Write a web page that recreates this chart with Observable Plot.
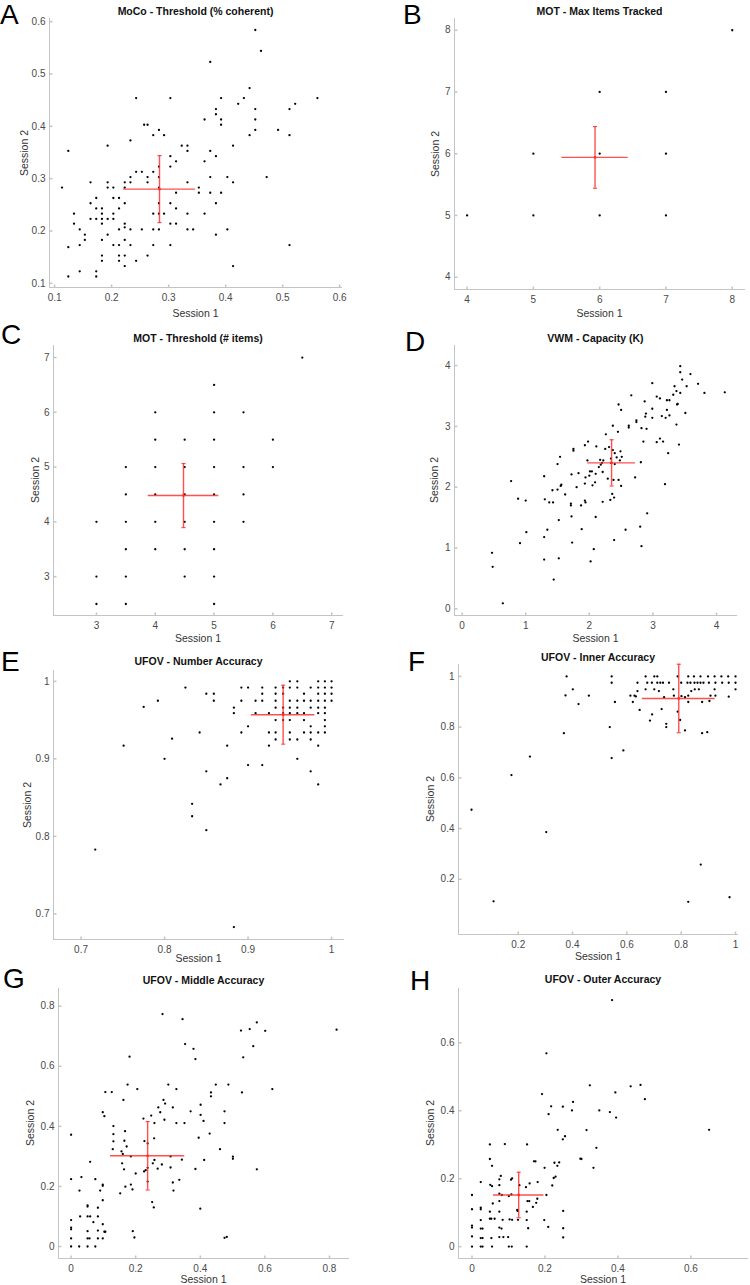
<!DOCTYPE html>
<html><head><meta charset="utf-8">
<script src="https://cdn.jsdelivr.net/npm/d3@7"></script>
<script src="https://cdn.jsdelivr.net/npm/@observablehq/plot@0.6"></script>
<style>
body{margin:0;background:#fff;}
#fig{position:relative;width:750px;height:1285px;overflow:hidden;font-family:"Liberation Sans",Arial,sans-serif;background:#fff;}
.ov{position:absolute;white-space:nowrap;line-height:1;}
.title{font-weight:bold;font-size:10.5px;color:#111;transform:translate(-50%,-50%);}
.xl{font-size:10.5px;color:#333;transform:translate(-50%,-50%);}
.yl{font-size:10.5px;color:#333;transform:translate(-50%,-50%) rotate(-90deg);}
.ov.let{font-family:"Liberation Sans",Arial,sans-serif;font-size:28px;line-height:1;color:#000;}
#fig svg{position:absolute;overflow:visible;}
</style></head>
<body><div id="fig"></div>
<script>
// ---------- DATA ----------
const titles = ["MoCo - Threshold (% coherent)","MOT - Max Items Tracked","MOT - Threshold (# items)","VWM - Capacity (K)","UFOV - Number Accuracy","UFOV - Inner Accuracy","UFOV - Middle Accuracy","UFOV - Outer Accuracy"];
const letters = ["A","B","C","D","E","F","G","H"];
const xLabel = "Session 1", yLabel = "Session 2";

const mocoPts = [[0.113,0.283],[0.124,0.353],[0.124,0.169],[0.124,0.113],[0.134,0.233],[0.134,0.214],[0.144,0.203],[0.144,0.173],[0.144,0.123],[0.153,0.193],[0.153,0.183],[0.163,0.293],[0.163,0.253],[0.163,0.223],[0.173,0.263],[0.173,0.243],[0.173,0.223],[0.173,0.123],[0.173,0.113],[0.183,0.243],[0.183,0.233],[0.183,0.223],[0.183,0.214],[0.183,0.183],[0.183,0.153],[0.183,0.143],[0.193,0.363],[0.193,0.293],[0.193,0.283],[0.193,0.223],[0.193,0.193],[0.203,0.283],[0.203,0.263],[0.203,0.233],[0.203,0.223],[0.203,0.173],[0.213,0.263],[0.213,0.243],[0.213,0.203],[0.213,0.173],[0.213,0.153],[0.213,0.143],[0.223,0.293],[0.223,0.283],[0.223,0.253],[0.223,0.214],[0.223,0.207],[0.223,0.183],[0.223,0.153],[0.223,0.133],[0.233,0.373],[0.233,0.303],[0.233,0.293],[0.233,0.203],[0.233,0.173],[0.243,0.454],[0.243,0.313],[0.243,0.143],[0.253,0.313],[0.253,0.203],[0.257,0.403],[0.263,0.403],[0.263,0.303],[0.263,0.293],[0.263,0.153],[0.273,0.383],[0.273,0.313],[0.273,0.233],[0.273,0.203],[0.273,0.173],[0.283,0.393],[0.283,0.323],[0.283,0.303],[0.283,0.283],[0.283,0.253],[0.283,0.233],[0.283,0.203],[0.292,0.383],[0.292,0.233],[0.303,0.454],[0.303,0.343],[0.303,0.323],[0.303,0.253],[0.303,0.214],[0.303,0.173],[0.313,0.333],[0.313,0.273],[0.313,0.243],[0.313,0.214],[0.323,0.363],[0.333,0.363],[0.333,0.353],[0.333,0.293],[0.333,0.233],[0.333,0.203],[0.343,0.203],[0.353,0.283],[0.353,0.273],[0.363,0.413],[0.363,0.333],[0.363,0.233],[0.373,0.523],[0.373,0.353],[0.373,0.303],[0.373,0.273],[0.383,0.433],[0.383,0.423],[0.383,0.343],[0.383,0.253],[0.383,0.193],[0.392,0.454],[0.392,0.413],[0.392,0.403],[0.392,0.273],[0.403,0.303],[0.403,0.203],[0.413,0.363],[0.413,0.293],[0.413,0.133],[0.422,0.443],[0.432,0.454],[0.442,0.473],[0.442,0.383],[0.452,0.584],[0.452,0.433],[0.452,0.413],[0.452,0.393],[0.462,0.544],[0.472,0.303],[0.492,0.393],[0.512,0.433],[0.512,0.383],[0.512,0.173],[0.522,0.443],[0.561,0.454]];
const motMaxPts = [[4,5],[5,6],[5,5],[6,7],[6,6],[6,5],[7,7],[7,6],[7,5],[8,8]];
const motThrPts = [[3,4],[3,3],[3,2.5],[3.5,5],[3.5,4.5],[3.5,4],[3.5,3.5],[3.5,3],[3.5,2.5],[4,6],[4,5.5],[4,5],[4,4.5],[4,4],[4,3.5],[4.5,5.5],[4.5,5],[4.5,4.5],[4.5,4],[4.5,3.5],[4.5,3],[5,6.5],[5,6],[5,5.5],[5,5],[5,4.5],[5,4],[5,3.5],[5,3],[5,2.5],[5.5,6],[5.5,5],[5.5,4.5],[5.5,4],[6,5.5],[6,5],[6.5,7]];
const vwmPts = [[0.47,0.92],[0.48,0.69],[0.64,0.09],[0.77,2.10],[0.88,1.81],[0.91,1.08],[1.00,1.78],[1.01,1.26],[1.29,2.18],[1.30,1.80],[1.29,1.18],[1.29,0.81],[1.34,1.30],[1.37,1.75],[1.43,1.75],[1.42,1.95],[1.44,0.48],[1.50,2.38],[1.50,1.96],[1.52,0.83],[1.52,1.46],[1.54,2.50],[1.55,2.02],[1.56,2.04],[1.62,1.88],[1.71,1.73],[1.71,1.70],[1.72,2.21],[1.72,1.52],[1.73,1.09],[1.75,2.63],[1.75,2.60],[1.80,2.00],[1.83,2.23],[1.87,1.70],[1.88,1.31],[1.93,2.69],[1.93,2.06],[1.93,1.78],[1.94,1.75],[1.94,2.16],[1.97,2.44],[1.98,2.75],[2.00,2.19],[2.01,2.26],[2.02,0.78],[2.04,2.26],[2.05,2.03],[2.07,0.98],[2.09,2.08],[2.10,2.22],[2.10,1.51],[2.11,2.67],[2.15,2.33],[2.17,2.45],[2.18,2.37],[2.20,2.40],[2.21,2.25],[2.21,1.76],[2.22,2.44],[2.25,2.63],[2.26,2.87],[2.29,2.14],[2.31,2.66],[2.33,1.79],[2.34,2.47],[2.34,2.40],[2.36,1.89],[2.37,2.61],[2.37,3.01],[2.38,2.12],[2.39,1.13],[2.39,1.83],[2.40,2.56],[2.40,2.38],[2.43,2.49],[2.45,2.91],[2.46,3.36],[2.46,2.12],[2.48,2.44],[2.49,2.59],[2.50,3.27],[2.50,2.02],[2.51,2.50],[2.57,1.30],[2.62,3.01],[2.62,2.98],[2.66,3.51],[2.72,2.16],[2.74,3.10],[2.74,3.07],[2.80,1.35],[2.81,2.41],[2.82,1.03],[2.82,2.97],[2.85,2.75],[2.87,3.41],[2.88,3.16],[2.89,3.21],[2.90,2.96],[2.91,1.57],[2.99,3.71],[2.99,3.14],[2.99,3.29],[3.06,2.74],[3.06,3.49],[3.11,3.46],[3.11,2.80],[3.14,3.17],[3.16,2.75],[3.19,2.05],[3.20,3.14],[3.22,3.27],[3.22,3.43],[3.24,2.56],[3.26,3.18],[3.26,3.43],[3.32,3.52],[3.34,3.66],[3.37,3.03],[3.37,3.58],[3.38,3.36],[3.39,3.37],[3.41,2.70],[3.43,3.99],[3.43,3.89],[3.43,3.55],[3.46,3.77],[3.51,3.22],[3.53,3.66],[3.59,3.86],[3.71,3.70],[3.81,3.55],[4.13,3.56]];
const numAccPts = [[0.717,0.783],[0.751,0.917],[0.775,0.967],[0.792,0.975],[0.800,0.900],[0.809,0.926],[0.825,0.992],[0.833,0.842],[0.833,0.826],[0.842,0.934],[0.850,0.984],[0.850,0.884],[0.850,0.808],[0.859,0.984],[0.859,0.975],[0.867,0.867],[0.875,0.917],[0.875,0.875],[0.883,0.966],[0.883,0.959],[0.883,0.683],[0.892,0.992],[0.892,0.975],[0.892,0.934],[0.900,0.992],[0.900,0.942],[0.900,0.892],[0.909,0.975],[0.909,0.959],[0.917,0.992],[0.917,0.984],[0.917,0.975],[0.917,0.892],[0.925,0.959],[0.925,0.934],[0.925,0.917],[0.933,0.992],[0.933,0.984],[0.933,0.975],[0.933,0.966],[0.933,0.950],[0.933,0.934],[0.933,0.925],[0.942,0.992],[0.942,0.984],[0.942,0.966],[0.942,0.959],[0.942,0.950],[0.950,1.0],[0.950,0.992],[0.950,0.975],[0.950,0.966],[0.950,0.959],[0.950,0.950],[0.950,0.934],[0.950,0.925],[0.959,1.0],[0.959,0.992],[0.959,0.975],[0.959,0.966],[0.959,0.959],[0.959,0.925],[0.959,0.900],[0.967,0.984],[0.967,0.975],[0.967,0.959],[0.967,0.950],[0.967,0.934],[0.975,0.992],[0.975,0.975],[0.975,0.966],[0.975,0.942],[0.975,0.934],[0.975,0.925],[0.975,0.884],[0.984,1.0],[0.984,0.992],[0.984,0.984],[0.984,0.975],[0.984,0.966],[0.984,0.959],[0.984,0.934],[0.984,0.917],[0.984,0.867],[0.992,1.0],[0.992,0.992],[0.992,0.984],[0.992,0.975],[0.992,0.966],[0.992,0.959],[0.992,0.950],[0.992,0.942],[0.992,0.934],[1.0,1.0],[1.0,0.992],[1.0,0.984],[1.0,0.975]];
const innerPts = [[0.028,0.474],[0.109,0.113],[0.175,0.611],[0.243,0.684],[0.303,0.386],[0.368,0.776],[0.374,0.925],[0.378,1.0],[0.401,0.949],[0.422,0.891],[0.460,0.924],[0.537,0.800],[0.544,1.0],[0.544,0.975],[0.544,0.678],[0.556,0.899],[0.587,0.708],[0.613,0.924],[0.622,0.899],[0.628,0.924],[0.633,0.921],[0.639,0.942],[0.639,0.975],[0.647,0.868],[0.669,1.0],[0.669,0.949],[0.675,0.975],[0.685,0.826],[0.692,0.975],[0.693,0.850],[0.701,1.0],[0.701,0.949],[0.712,1.0],[0.712,0.975],[0.718,0.942],[0.723,0.975],[0.728,0.871],[0.733,0.975],[0.737,0.918],[0.745,0.800],[0.745,0.813],[0.755,0.975],[0.771,0.949],[0.773,0.924],[0.787,0.861],[0.787,1.0],[0.796,0.828],[0.800,0.975],[0.801,0.922],[0.814,0.918],[0.814,0.787],[0.823,0.975],[0.826,0.899],[0.826,0.924],[0.826,1.0],[0.834,0.975],[0.837,0.942],[0.847,1.0],[0.849,0.975],[0.850,0.949],[0.860,0.975],[0.865,0.949],[0.871,1.0],[0.871,0.975],[0.872,0.258],[0.877,0.899],[0.877,0.776],[0.882,0.975],[0.896,0.780],[0.899,1.0],[0.902,0.975],[0.904,0.903],[0.908,0.924],[0.923,1.0],[0.926,0.975],[0.923,0.949],[0.926,0.924],[0.948,1.0],[0.951,0.975],[0.973,1.0],[0.975,0.920],[0.975,0.975],[0.978,0.129],[1.0,1.0],[1.0,0.975],[1.0,0.949],[0.826,0.111]];
const middlePts = [[0,0],[0,0.027],[0,0.057],[0,0.063],[0,0.088],[0,0.224],[0,0.372],[0.025,0],[0.026,0.186],[0.028,0.1],[0.032,0.231],[0.051,0],[0.051,0.027],[0.051,0.051],[0.051,0.1],[0.051,0.133],[0.051,0.137],[0.057,0.027],[0.059,0.1],[0.059,0.282],[0.069,0.081],[0.075,0],[0.075,0.224],[0.083,0.027],[0.083,0.053],[0.083,0.1],[0.083,0.129],[0.09,0.186],[0.098,0.027],[0.098,0.074],[0.098,0.154],[0.098,0.202],[0.098,0.206],[0.098,0.447],[0.103,0.434],[0.106,0.049],[0.103,0.049],[0.106,0.514],[0.126,0.514],[0.129,0.324],[0.131,0.35],[0.131,0.374],[0.131,0.401],[0.152,0.177],[0.156,0.317],[0.158,0.277],[0.16,0.308],[0.162,0.488],[0.164,0.257],[0.165,0.352],[0.167,0.384],[0.168,0.199],[0.172,0.333],[0.175,0.539],[0.181,0.632],[0.185,0.3],[0.185,0.206],[0.19,0.19],[0.191,0.051],[0.196,0.03],[0.2,0.243],[0.205,0.524],[0.224,0.426],[0.227,0.351],[0.226,0.25],[0.231,0.254],[0.237,0.216],[0.237,0.343],[0.237,0.262],[0.248,0.436],[0.251,0.148],[0.253,0.277],[0.256,0.13],[0.257,0.36],[0.258,0.411],[0.258,0.288],[0.268,0.259],[0.27,0.463],[0.276,0.447],[0.281,0.273],[0.283,0.774],[0.286,0.488],[0.289,0.422],[0.291,0.476],[0.301,0.539],[0.308,0.263],[0.308,0.3],[0.315,0.463],[0.315,0.213],[0.317,0.186],[0.326,0.411],[0.326,0.524],[0.335,0.222],[0.343,0.289],[0.345,0.757],[0.351,0.411],[0.353,0.674],[0.37,0.45],[0.379,0.658],[0.385,0.624],[0.385,0.258],[0.395,0.362],[0.4,0.126],[0.401,0.472],[0.401,0.438],[0.41,0.418],[0.412,0.288],[0.429,0.376],[0.433,0.513],[0.433,0.5],[0.448,0.539],[0.461,0.324],[0.475,0.45],[0.475,0.411],[0.475,0.029],[0.482,0.032],[0.487,0.539],[0.501,0.299],[0.501,0.292],[0.526,0.719],[0.529,0.513],[0.533,0.63],[0.553,0.724],[0.564,0.667],[0.575,0.746],[0.575,0.257],[0.601,0.718],[0.623,0.524],[0.822,0.722]];
const outerPts = [[0,0],[0,0.030],[0,0.056],[0,0.062],[0,0.110],[0,0.152],[0.024,0],[0.024,0.025],[0.024,0.053],[0.024,0.078],[0.024,0.110],[0.024,0.115],[0.024,0.19],[0.029,0],[0.029,0.025],[0.029,0.053],[0.049,0.082],[0.049,0.103],[0.049,0.258],[0.049,0.301],[0.05,0.182],[0.053,0.025],[0.053,0.082],[0.055,0.238],[0.055,0.178],[0.055,0],[0.057,0.127],[0.062,0.082],[0.075,0.028],[0.075,0.056],[0.075,0.103],[0.075,0.134],[0.075,0.156],[0.075,0.181],[0.075,0.198],[0.079,0.208],[0.081,0.053],[0.082,0.152],[0.084,0.079],[0.086,0.028],[0.09,0.302],[0.099,0.028],[0.101,0.149],[0.101,0],[0.103,0.08],[0.107,0.197],[0.108,0.154],[0.109,0],[0.11,0.201],[0.11,0.079],[0.124,0.108],[0.125,0.105],[0.126,0.079],[0.13,0.181],[0.15,0],[0.15,0.103],[0.15,0.078],[0.148,0.175],[0.151,0.301],[0.152,0.134],[0.154,0.054],[0.157,0.134],[0.158,0.186],[0.167,0.117],[0.17,0.251],[0.174,0.251],[0.176,0.129],[0.179,0.141],[0.18,0.19],[0.192,0.449],[0.198,0.078],[0.199,0.232],[0.204,0.152],[0.204,0.569],[0.209,0.058],[0.21,0.39],[0.217,0.413],[0.22,0.18],[0.224,0.202],[0.226,0.247],[0.229,0.206],[0.234,0.238],[0.235,0.344],[0.239,0.248],[0.249,0.412],[0.249,0.316],[0.25,0.105],[0.25,0.054],[0.25,0.027],[0.255,0.325],[0.274,0.401],[0.277,0.426],[0.297,0.259],[0.3,0.258],[0.314,0.343],[0.323,0.475],[0.333,0.232],[0.341,0.291],[0.349,0.401],[0.378,0.396],[0.384,0.726],[0.393,0.454],[0.395,0.38],[0.435,0.472],[0.462,0.476],[0.474,0.434],[0.65,0.344]];

// mean session1, mean session2, error session1, error session2
const means = [[0.284,0.280,0.063,0.064],[5.93,5.94,0.5,0.5],[4.48,4.48,0.6,0.585],[2.35,2.40,0.375,0.38],[0.942,0.957,0.038,0.038],[0.791,0.913,0.134,0.135],[0.237,0.302,0.115,0.114],[0.128,0.152,0.069,0.067]];
const pointSets = [mocoPts, motMaxPts, motThrPts, vwmPts, numAccPts, innerPts, middlePts, outerPts];

const xTicks = [[0.1,0.2,0.3,0.4,0.5,0.6],[4,5,6,7,8],[3,4,5,6,7],[0,1,2,3,4],[0.7,0.8,0.9,1],[0.2,0.4,0.6,0.8,1],[0,0.2,0.4,0.6,0.8],[0,0.2,0.4,0.6]];
const yTicks = [[0.1,0.2,0.3,0.4,0.5,0.6],[4,5,6,7,8],[3,4,5,6,7],[0,1,2,3,4],[0.7,0.8,0.9,1],[0.2,0.4,0.6,0.8,1],[0,0.2,0.4,0.6,0.8],[0,0.2,0.4,0.6]];
const xDomains = [[0.091,0.605],[3.81,8.2],[2.27,7.2],[-0.12,4.33],[0.667,1.0155],[-0.02,1.011],[-0.039,0.862],[-0.037,0.758]];
const yDomains = [[0.092,0.606],[3.8,8.19],[2.29,7.22],[-0.11,4.33],[0.667,1.014],[-0.018,1.047],[-0.04,0.859],[-0.035,0.76]];

// ---------- LAYOUT ----------
const layout = [
  {box:[0,0,375,320],   frame:[49,342,18,287],   titleY:11,  xlY:313,  ylX:24,  let:[0,26]},
  {box:[375,0,375,320], frame:[454,745,18,289],  titleY:11,  xlY:313,  ylX:435, let:[403,26]},
  {box:[0,320,375,320], frame:[53,343,345,615],  titleY:338, xlY:638,  ylX:35,  let:[1,346]},
  {box:[375,320,375,320],frame:[454,737,345,615],titleY:338, xlY:638,  ylX:434, let:[405,353]},
  {box:[0,640,375,320], frame:[53,344,670,939],  titleY:661, xlY:958,  ylX:27,  let:[1,673]},
  {box:[375,640,375,320],frame:[458,738,664,934],titleY:657, xlY:956,  ylX:430, let:[408,673]},
  {box:[0,960,375,325], frame:[58,349,988,1258], titleY:980, xlY:1279, ylX:30,  let:[3,990]},
  {box:[375,960,375,325],frame:[458,748,988,1258],titleY:979,xlY:1279, ylX:430, let:[410,992]}
];

const red = "#ff3030";
const axisGray = "#c4c4c4";
const capSym = {draw(ctx, size){const w = Math.sqrt(size)/2; ctx.moveTo(-w,0); ctx.lineTo(w,0);}};
const tickUpSym = {draw(ctx){ctx.moveTo(0,0); ctx.lineTo(0,-3);}};
const tickRightSym = {draw(ctx){ctx.moveTo(0,0); ctx.lineTo(3,0);}};
const fmt = d => String(+d.toFixed(2));

const fig = document.getElementById("fig");
function addText(cls, txt, left, top){
  const d = document.createElement("div");
  d.className = "ov " + cls; d.textContent = txt;
  d.style.left = left + "px"; d.style.top = top + "px";
  fig.appendChild(d);
}

layout.forEach((L, i) => {
  const [bx, by, bw, bh] = L.box;
  const [fl, fr, ft, fb] = L.frame;
  const xd = xDomains[i], yd = yDomains[i];
  const [mx, my, sx, sy] = means[i];
  const m = {x: mx, y: my, sx, sy};
  const svg = Plot.plot({
    width: bw, height: bh,
    marginLeft: fl - bx, marginRight: bx + bw - fr, marginTop: ft - by, marginBottom: by + bh - fb,
    x: {domain: xd},
    y: {domain: yd},
    style: {fontFamily: "Liberation Sans, Arial, sans-serif", color: "#4a4a4a", background: "transparent"},
    marks: [
      Plot.ruleX([xd[0]], {stroke: axisGray, strokeWidth: 1}),
      Plot.ruleY([yd[0]], {stroke: axisGray, strokeWidth: 1}),
      Plot.dot(xTicks[i], {x: d => d, y: () => yd[0], symbol: tickUpSym, stroke: axisGray, fill: "none", r: 2}),
      Plot.dot(yTicks[i], {x: () => xd[0], y: d => d, symbol: tickRightSym, stroke: axisGray, fill: "none", r: 2}),
      Plot.axisX(xTicks[i], {tickSize: 0, tickPadding: 6, tickFormat: fmt, fontSize: 10, label: null}),
      Plot.axisY(yTicks[i], {tickSize: 0, tickPadding: 4, tickFormat: fmt, fontSize: 10, label: null}),
      Plot.dot(pointSets[i], {x: d => d[0], y: d => d[1], r: 1.15, fill: "#000", stroke: "none"}),
      Plot.ruleY([m], {y: "y", x1: d => d.x - d.sx, x2: d => d.x + d.sx, stroke: red, strokeWidth: 1.4, strokeOpacity: 0.85}),
      Plot.ruleX([m], {x: "x", y1: d => d.y - d.sy, y2: d => d.y + d.sy, stroke: red, strokeWidth: 1.4, strokeOpacity: 0.85}),
      Plot.dot([m, m], {x: "x", y: (d, j) => j ? d.y + d.sy : d.y - d.sy, symbol: capSym, r: 2.3, stroke: red, strokeWidth: 1.2, fill: "none", strokeOpacity: 0.85}),
      Plot.dot([m], {x: "x", y: "y", r: 1.4, fill: red, stroke: "none"})
    ]
  });
  svg.style.left = bx + "px"; svg.style.top = by + "px";
  fig.appendChild(svg);
  const cx = (fl + fr) / 2, cy = (ft + fb) / 2;
  addText("title", titles[i], cx, L.titleY);
  addText("xl", xLabel, cx, L.xlY);
  addText("yl", yLabel, L.ylX, cy);
  // Liberation Sans at 28px, line-height 1: baseline ~25.3px below the box top
  addText("let", letters[i], L.let[0], L.let[1] - 25.3);
});
</script>
</body></html>
